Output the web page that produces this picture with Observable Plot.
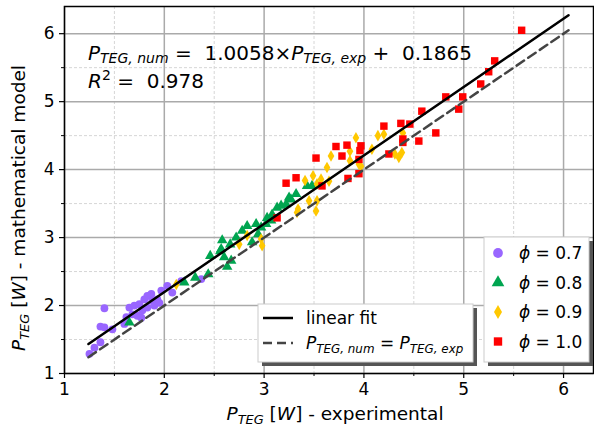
<!DOCTYPE html>
<html><head><meta charset="utf-8">
<script src="https://cdn.jsdelivr.net/npm/d3@7"></script>
<script src="https://cdn.jsdelivr.net/npm/@observablehq/plot@0.6"></script>
<style>body{margin:0;background:#fff} svg{display:block}</style>
</head><body><div id="chart"></div>
<script>
// ---- data ----
const phi07 = [[1.25,1.29],[1.30,1.38],[1.36,1.46],[1.40,1.96],[1.36,1.69],[1.40,1.68],[1.48,1.65],[1.60,1.73],
  [1.65,1.97],[1.70,2.00],[1.68,1.87],[1.73,1.85],[1.77,1.82],[1.75,2.02],[1.80,2.09],[1.83,2.14],[1.87,2.17],
  [1.88,2.07],[1.93,2.09],[1.97,2.22],[2.03,2.29],[1.83,1.97],[1.90,2.00],[1.95,2.04],[2.08,2.19],[2.17,2.36],
  [2.37,2.39],[1.62,1.83],[1.78,1.93]];
const phi08 = [[1.65,1.75],[2.20,2.34],[2.31,2.41],[2.44,2.46],[2.46,2.73],[2.57,2.83],[2.58,2.96],[2.60,2.71],
  [2.63,2.57],[2.66,2.90],[2.67,2.66],[2.78,3.10],[2.83,3.17],[2.88,2.93],[2.92,3.20],[2.94,3.05],[2.97,3.15],
  [3.02,3.20],[3.03,3.29],[3.08,3.34],[3.13,3.44],[3.17,3.47],[3.22,3.49],[3.25,3.59],[3.32,3.64],[3.07,3.25],
  [3.43,3.76],[3.48,3.76],[3.27,3.56],[2.56,2.80],[2.72,3.00]];
const phi09 = [[2.12,2.31],[2.75,2.90],[2.83,3.03],[2.98,2.88],[2.97,2.98],[3.33,3.37],[3.34,3.42],[3.45,3.54],
  [3.53,3.54],[3.52,3.39],[3.41,3.84],[3.49,3.91],[3.57,3.86],[3.65,3.83],[3.53,3.79],[3.63,4.03],[3.67,4.20],
  [3.86,4.27],[3.86,4.13],[3.95,4.08],[3.92,4.47],[4.14,4.50],[4.20,4.52],[4.08,4.30],[4.31,4.23],[4.35,4.18],
  [4.38,4.25],[4.39,4.54],[3.97,4.05]];
const phi10 = [[3.13,3.29],[3.22,3.80],[3.32,3.88],[3.52,4.17],[3.58,3.76],[3.72,4.34],[3.83,4.36],[3.78,4.20],
  [3.84,3.87],[3.95,3.94],[3.95,4.15],[3.97,4.35],[3.96,4.28],[4.25,4.23],[4.20,4.64],[4.37,4.68],[4.46,4.67],
  [4.39,4.45],[4.39,4.40],[4.55,4.42],[4.58,4.86],[4.72,4.54],[4.82,5.07],[4.99,5.07],[4.95,4.89],[5.17,5.26],
  [5.25,5.44],[5.31,5.60],[5.58,6.05]];
const fitSlope = 1.0058, fitIntercept = 0.1865, r2 = 0.978;
const lineX = [1.24, 6.05];
const xMajor = [1,2,3,4,5,6], yMajor = [1,2,3,4,5,6];
const xMinor = [1.5,2.5,3.5,4.5,5.5], yMinor = [1.5,2.5,3.5,4.5,5.5];
const seriesLabels = ["0.7","0.8","0.9","1.0"];
const seriesColors = ["#9966ff","#00a550","#ffc800","#ff0000"];
const seriesSymbols = ["circle","triangle","diamond","square"];

const fitLine = lineX.map(x => ({x, y: fitSlope*x + fitIntercept}));
const idLine = lineX.map(x => ({x, y: x}));
const series = [phi07, phi08, phi09, phi10];
const rs = [3.9, 3.9, 3.5, 4.2];

const FONT = "DejaVu Sans";
const plot = Plot.plot({
  width: 594, height: 432,
  marginLeft: 64, marginRight: 1, marginTop: 6, marginBottom: 59,
  style: {fontFamily: FONT, fontSize: "16px", color: "black", background: "white"},
  x: {domain: [1, 6.3]},
  y: {domain: [1, 6.4]},
  marks: [
    Plot.ruleX(xMinor, {stroke: "#d6d6d6", strokeWidth: 1, strokeDasharray: "3,2"}),
    Plot.ruleY(yMinor, {stroke: "#d6d6d6", strokeWidth: 1, strokeDasharray: "3,2"}),
    Plot.ruleX(xMajor, {stroke: "#aaaaaa", strokeWidth: 1.5}),
    Plot.ruleY(yMajor, {stroke: "#aaaaaa", strokeWidth: 1.5}),
    ...series.map((s, i) => Plot.dot(s, {x: d => d[0], y: d => d[1], symbol: seriesSymbols[i], fill: seriesColors[i], r: rs[i], stroke: "none"})),
    Plot.line(idLine, {x: "x", y: "y", stroke: "#444", strokeWidth: 2.5, strokeDasharray: "9,5"}),
    Plot.line(fitLine, {x: "x", y: "y", stroke: "black", strokeWidth: 2.5}),
    Plot.frame({stroke: "black", strokeWidth: 1.5}),
    Plot.axisX(xMajor, {tickSize: 5, tickPadding: 4, label: null, strokeWidth: 1.2, fontSize: 17, tickFormat: d => String(d)}),
    Plot.axisX(xMinor, {tickSize: 3, text: null, label: null, strokeWidth: 1}),
    Plot.axisY(yMajor, {tickSize: 5, tickPadding: 5, label: null, strokeWidth: 1.2, fontSize: 17, tickFormat: d => String(d)}),
    Plot.axisY(yMinor, {tickSize: 3, text: null, label: null, strokeWidth: 1})
  ]
});
document.getElementById("chart").append(plot);

const svg = d3.select(plot);

function rich(g, x, y, parts, size, anchor, subDepth) {
  const sd = subDepth == null ? 0.22 : subDepth;
  const t = g.append("text").attr("x", x).attr("y", y)
    .attr("font-size", size).attr("font-family", FONT)
    .attr("text-anchor", anchor || "start").attr("fill", "black")
    .style("white-space", "pre");
  let shift = 0;
  for (const [s, kind] of parts) {
    const ts = t.append("tspan").text(s);
    const target = kind === "sub" ? sd*size : kind === "sup" ? -0.42*size : 0;
    if (target !== shift) { ts.attr("dy", target - shift); shift = target; }
    if (kind === "sub" || kind === "sup") ts.attr("font-size", size*0.7);
    if (kind === "i" || kind === "sub") ts.attr("font-style", "italic");
  }
  return t;
}

const g = svg.append("g");
// axis labels
rich(g, 335, 420, [["P","i"],["TEG","sub"],[" [",""],["W","i"],["] - experimental",""]], 18.5, "middle");
const gy = g.append("g").attr("transform", `translate(25,208) rotate(-90)`);
rich(gy, 0, 0, [["P","i"],["TEG","sub"],[" [",""],["W","i"],["] - mathematical model",""]], 18.5, "middle");

// annotation
rich(g, 88, 60, [["P","i"],["TEG, num","sub"],[" =  "+fitSlope.toFixed(4)+"×",""],["P","i"],["TEG, exp","sub"],[" +  "+fitIntercept.toFixed(4),""]], 20, "start", 0.16);
rich(g, 88, 88, [["R","i"],["2","sup"],[" =  "+r2.toFixed(3),""]], 20);

// legend 1 : lines
const L1 = {x: 258, y: 304, w: 215, h: 58};
g.append("rect").attr("x", L1.x+4).attr("y", L1.y+4).attr("width", L1.w).attr("height", L1.h).attr("fill", "#555");
g.append("rect").attr("x", L1.x).attr("y", L1.y).attr("width", L1.w).attr("height", L1.h).attr("fill", "white").attr("stroke", "#cccccc");
g.append("line").attr("x1", 263).attr("x2", 293).attr("y1", 318).attr("y2", 318).attr("stroke", "black").attr("stroke-width", 2.5);
rich(g, 306, 324, [["linear fit",""]], 17);
g.append("line").attr("x1", 263).attr("x2", 293).attr("y1", 343).attr("y2", 343).attr("stroke", "#444").attr("stroke-width", 2.5).attr("stroke-dasharray", "9,5");
rich(g, 306, 349, [["P","i"],["TEG, num","sub"],[" = ",""],["P","i"],["TEG, exp","sub"]], 17);

// legend 2 : series
const L2 = {x: 484, y: 237, w: 105, h: 125};
g.append("rect").attr("x", L2.x+4).attr("y", L2.y+4).attr("width", L2.w).attr("height", L2.h).attr("fill", "#555");
g.append("rect").attr("x", L2.x).attr("y", L2.y).attr("width", L2.w).attr("height", L2.h).attr("fill", "white").attr("stroke", "#cccccc");
const symTypes = {circle: d3.symbolCircle, triangle: d3.symbolTriangle, diamond: d3.symbolDiamond, square: d3.symbolSquare};
const symSizes = [75, 70, 55, 70];
seriesLabels.forEach((lab, i) => {
  const yy = 253 + i*29.5;
  g.append("path").attr("d", d3.symbol(symTypes[seriesSymbols[i]], symSizes[i])()).attr("transform", `translate(498,${yy})`).attr("fill", seriesColors[i]);
  rich(g, 519, yy + 6, [["ϕ","i"],[" = "+lab,""]], 17);
});
</script>
</body></html>
